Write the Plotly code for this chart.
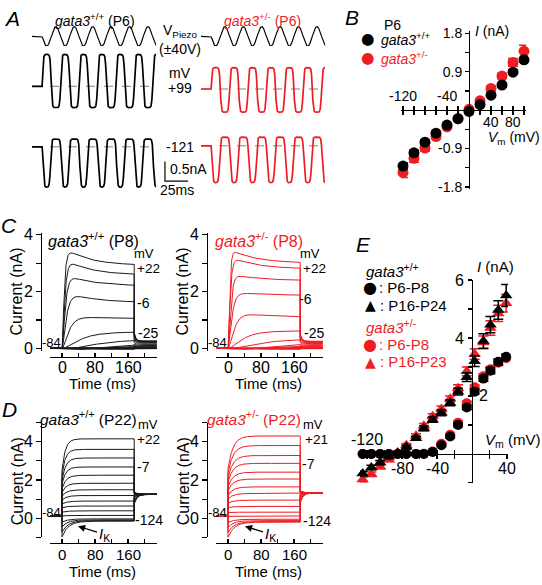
import numpy as np
import plotly.graph_objects as go

W, H = 542, 585
BLK = '#000000'
TRC = '#1a1a1a'
RED = '#ee1d23'
GRAY = '#808080'
FONT = 'Liberation Sans, Arial, sans-serif'
SYM = 'DejaVu Sans'

# ---------------- Panel A : MET currents ----------------
A_SWEEP_MS = 135
A_STIM_ON_MS = 11
A_STIM_HZ = 50
A_PIEZO_V = 40
A_GAIN = 6.0
A_STEP_LABELS = ['+99', '-121']
A_CLOSED_BLACK = [0.00, 0.00]
A_OPEN_BLACK = [1.37, -1.25]
A_REST_PO_BLACK = [0.40, 0.16]
A_CLOSED_RED = [-0.12, 0.05]
A_OPEN_RED = [1.03, -1.13]
A_REST_PO_RED = [0.52, 0.19]
A_SCALE_NA = 0.5
A_SCALE_MS = 25

# ---------------- Panel B : P6 I-V ----------------
B_V = [-120, -100, -80, -60, -40, -20, 0, 20, 40, 60, 80, 100]
B_I_BLACK = [-1.31, -1.00, -0.75, -0.54, -0.35, -0.20, -0.03, 0.13, 0.35, 0.59, 0.89, 1.18]
B_ERR_BLACK = [0.07, 0.06, 0.05, 0.04, 0.03, 0.03, 0.03, 0.04, 0.04, 0.04, 0.05, 0.05]
B_I_RED = [-1.46, -1.13, -0.89, -0.62, -0.39, -0.20, 0.02, 0.22, 0.51, 0.80, 1.12, 1.38]
B_ERR_RED = [0.12, 0.09, 0.07, 0.05, 0.04, 0.03, 0.03, 0.04, 0.05, 0.06, 0.09, 0.14]
B_XTICKS = [-120, -100, -80, -60, -40, -20, 20, 40, 60, 80, 100]
B_XLABELS_ABOVE = [-120, -40]
B_XLABELS_BELOW = [40, 80]
B_YTICKS = [-1.8, -0.9, 0.9, 1.8]
B_YTEXT = ['-1.8', '-0.9', '0.9', '1.8']
B_YMINOR = [-1.35, -0.45, 0.45, 1.35]

# ---------------- Panel C : P8 outward currents ----------------
C_STEP_MS = 175
C_END_MS = 230
C_TAU_INACT = 60
C_MV = [22, 13, 3, -6, -16, -25, -34, -44, -53, -63, -72, -82, -91, -100, -110, -119]
C_BLACK_PEAK = [3.44, 3.04, 2.52, 1.88, 1.11, 0.55, 0.27, 0.13, 0.07, 0.04, 0.02, 0.01, -0.01, -0.02, -0.03, -0.04]
C_BLACK_END = [2.92, 2.58, 2.20, 1.62, 1.05, 0.58, 0.30, 0.15, 0.08, 0.04, 0.02, 0.01, -0.01, -0.02, -0.03, -0.04]
C_BLACK_TAU = [4, 5, 6, 8, 13, 28, 40, 50, 55, 60, 60, 60, 60, 60, 60, 60]
C_BLACK_TAIL0 = [0.55, 0.50, 0.45, 0.40, 0.33, 0.27, 0.20, 0.14, 0.10, 0.07, 0.05, 0.03, 0.02, 0.01, 0.00, -0.01]
C_BLACK_TAILSS = [0.26, 0.25, 0.24, 0.23, 0.21, 0.18, 0.14, 0.10, 0.07, 0.05, 0.03, 0.02, 0.01, 0.00, 0.00, -0.01]
C_RED_PEAK = [3.44, 3.16, 2.58, 1.96, 1.22, 0.60, 0.30, 0.15, 0.08, 0.04, 0.02, 0.01, -0.01, -0.02, -0.03, -0.04]
C_RED_END = [3.00, 2.80, 2.39, 1.87, 1.10, 0.62, 0.32, 0.17, 0.09, 0.05, 0.02, 0.01, -0.01, -0.02, -0.03, -0.04]
C_RED_TAU = [3, 4, 5, 7, 12, 25, 40, 50, 55, 60, 60, 60, 60, 60, 60, 60]
C_RED_TAIL0 = [0.50, 0.46, 0.42, 0.38, 0.32, 0.26, 0.20, 0.14, 0.10, 0.07, 0.05, 0.03, 0.02, 0.01, 0.00, -0.01]
C_RED_TAILSS = [0.25, 0.24, 0.23, 0.22, 0.20, 0.17, 0.14, 0.10, 0.07, 0.05, 0.03, 0.02, 0.01, 0.00, 0.00, -0.01]
CD_XTICKS = [0, 40, 80, 120, 160, 200]
CD_XLABELS = [0, 80, 160]
C_YTICKS = [0, 2, 4]
C_YMINOR = [1, 3]

# ---------------- Panel D : P22 currents ----------------
D_HOLD_I = 0.10
D_BLACK_MV = [22, 12, 3, -7, -17, -26, -36, -46, -55, -65, -75, -84, -94, -104, -113, -124]
D_BLACK_I0 = [2.50, 2.25, 2.00, 1.80, 1.55, 1.35, 1.15, 0.95, 0.75, 0.55, 0.32, 0.12, -0.20, -0.45, -0.72, -0.97]
D_BLACK_ISS = [4.15, 3.60, 3.15, 2.68, 2.25, 1.83, 1.49, 1.19, 0.90, 0.64, 0.39, 0.15, -0.03, -0.08, -0.12, -0.15]
D_BLACK_TAU = [8, 8, 9, 9, 10, 10, 11, 11, 12, 12, 12, 12, 14, 14, 15, 15]
D_BLACK_TAIL0 = [1.36, 1.35, 1.34, 1.33, 1.32, 1.30, 1.28, 1.26, 1.24, 1.20, 1.15, 1.08, 0.98, 0.90, 0.82, 0.75]
D_BLACK_TAILSS = 1.25
D_RED_MV = [21, 12, 2, -7, -17, -26, -36, -45, -55, -65, -74, -84, -94, -104, -114, -124]
D_RED_I0 = [2.60, 2.35, 2.10, 1.90, 1.65, 1.45, 1.20, 1.00, 0.78, 0.55, 0.30, 0.10, -0.22, -0.48, -0.74, -1.00]
D_RED_ISS = [4.30, 3.80, 3.28, 2.87, 2.41, 2.05, 1.64, 1.30, 0.95, 0.62, 0.32, 0.12, -0.05, -0.12, -0.17, -0.20]
D_RED_TAU = [12, 12, 12, 12, 12, 12, 12, 12, 12, 12, 12, 12, 14, 14, 15, 15]
D_RED_TAIL0 = [1.42, 1.41, 1.40, 1.39, 1.38, 1.37, 1.35, 1.33, 1.30, 1.27, 1.22, 1.15, 1.05, 0.96, 0.88, 0.80]
D_RED_TAILSS = 1.33
D_YTICKS = [0, 2, 4]
D_YMINOR = [-1, 1, 3, 5]

# ---------------- Panel E : I-V ----------------
E_V = [-125, -115, -105, -95, -85, -75, -64, -55, -45, -35, -25, -16, -6, 3, 13, 21, 30, 39]
E_CIRC_BLACK = [0.00, 0.00, 0.00, 0.00, 0.00, 0.00, 0.00, 0.00, 0.07, 0.30, 0.60, 1.00, 1.60, 2.15, 2.60, 2.87, 3.18, 3.35]
E_CIRC_BLACK_ERR = [0.03, 0.03, 0.03, 0.03, 0.03, 0.03, 0.03, 0.03, 0.03, 0.04, 0.05, 0.06, 0.07, 0.08, 0.09, 0.10, 0.10, 0.10]
E_CIRC_RED = [0.00, 0.00, 0.00, 0.00, 0.00, 0.00, 0.00, 0.01, 0.08, 0.35, 0.66, 1.08, 1.75, 2.30, 2.68, 2.92, 3.15, 3.30]
E_CIRC_RED_ERR = [0.03, 0.03, 0.03, 0.03, 0.03, 0.03, 0.03, 0.03, 0.03, 0.04, 0.05, 0.06, 0.07, 0.08, 0.09, 0.10, 0.10, 0.10]
E_TRI_BLACK = [-0.68, -0.47, -0.30, -0.10, 0.03, 0.24, 0.54, 0.88, 1.18, 1.42, 1.76, 2.15, 2.65, 3.20, 3.90, 4.46, 4.97, 5.47]
E_TRI_BLACK_ERR = [0.08, 0.08, 0.07, 0.06, 0.05, 0.06, 0.07, 0.08, 0.09, 0.10, 0.10, 0.12, 0.15, 0.18, 0.25, 0.28, 0.32, 0.38]
E_TRI_RED = [-0.88, -0.70, -0.44, -0.20, 0.05, 0.30, 0.63, 0.97, 1.30, 1.55, 1.90, 2.27, 2.85, 3.45, 3.85, 4.35, 4.85, 5.20]
E_TRI_RED_ERR = [0.08, 0.08, 0.07, 0.06, 0.05, 0.06, 0.07, 0.08, 0.09, 0.10, 0.10, 0.12, 0.15, 0.18, 0.22, 0.25, 0.28, 0.30]
E_XTICKS = [-120, -100, -80, -60, -40, -20, 20, 40]
E_XLABELS_ABOVE = [-120]
E_XLABELS_BELOW = [-80, -40, 40]
E_YTICKS = [-1, 1, 2, 3, 4, 5, 6]
E_YLABELS_LEFT = [6, 4]
E_YLABELS_RIGHT = [2]


def dom_x(a, b):
    return [a / W, b / W]


def dom_y(top, bot):
    return [1 - bot / H, 1 - top / H]


fig = go.Figure()


def add_line(x, y, xa, ya, color, width, dash=None):
    fig.add_trace(go.Scatter(x=x, y=y, xaxis=xa, yaxis=ya, mode='lines',
                             line=dict(color=color, width=width, dash=dash),
                             hoverinfo='skip', showlegend=False))


# ---------- Panel A traces ----------
tA = np.linspace(0, A_SWEEP_MS, 1351)
phase = np.where(tA >= A_STIM_ON_MS,
                 np.sin(2 * np.pi * A_STIM_HZ * (tA - A_STIM_ON_MS) / 1000.0), 0.0)
piezo = -A_PIEZO_V * phase
for xa in ['x', 'x2']:
    add_line(tA, piezo, xa, 'y', BLK, 1.2)
for i, ya in enumerate(['y2', 'y3']):
    for xa, cl, op, rp, col in [('x', A_CLOSED_BLACK, A_OPEN_BLACK, A_REST_PO_BLACK, BLK),
                                ('x2', A_CLOSED_RED, A_OPEN_RED, A_REST_PO_RED, RED)]:
        off = np.log(rp[i] / (1 - rp[i]))
        po = 1.0 / (1.0 + np.exp(-(A_GAIN * phase + off)))
        cur = cl[i] + (op[i] - cl[i]) * po
        rest = cl[i] + (op[i] - cl[i]) * rp[i]
        add_line([0, A_SWEEP_MS], [rest, rest], xa, ya, GRAY, 1, 'dash')
        add_line(tA, cur, xa, ya, col, 1.7)
# scale bar
sb_t0 = 5.4
sb_y0 = -1.075
add_line([sb_t0, sb_t0, sb_t0 + A_SCALE_MS], [sb_y0 + A_SCALE_NA, sb_y0, sb_y0], 'x3', 'y3', BLK, 1.2)

# ---------- Panel B ----------
for yv, ev, col in [(B_I_RED, B_ERR_RED, RED), (B_I_BLACK, B_ERR_BLACK, BLK)]:
    fig.add_trace(go.Scatter(x=B_V, y=yv, xaxis='x4', yaxis='y4', mode='markers',
                             marker=dict(color=col, size=11, symbol='circle'),
                             error_y=dict(type='data', array=ev, color=col, thickness=1.5, width=5),
                             cliponaxis=False, showlegend=False, hoverinfo='skip'))
fig.add_trace(go.Scatter(x=[], y=[], xaxis='x10', yaxis='y4', showlegend=False))

# ---------- Panel C ----------
t_pre = np.array([-29.0, 0.0])
t_step = np.linspace(0, C_STEP_MS, 351)
t_tail = np.linspace(C_STEP_MS, C_END_MS, 111)
t_all = np.concatenate([t_pre, t_step, t_tail])


def c_trace(peak, end, tau, tail0, tailss):
    tpk = 4.0 * tau
    amp = end + (peak - end) * np.exp(min(tpk, 200) / C_TAU_INACT)
    act = (1 - np.exp(-t_step / tau)) ** 2
    step = act * (end + (amp - end) * np.exp(-t_step / C_TAU_INACT))
    tail = tailss + (tail0 - tailss) * np.exp(-(t_tail - C_STEP_MS) / 4.0)
    return np.concatenate([[0.0, 0.0], step, tail])


for xa, ya, pk, en, ta, t0, ts, col in [
        ('x5', 'y5', C_BLACK_PEAK, C_BLACK_END, C_BLACK_TAU, C_BLACK_TAIL0, C_BLACK_TAILSS, TRC),
        ('x6', 'y6', C_RED_PEAK, C_RED_END, C_RED_TAU, C_RED_TAIL0, C_RED_TAILSS, RED)]:
    for k in range(len(C_MV) - 1, -1, -1):
        add_line(t_all, c_trace(pk[k], en[k], ta[k], t0[k], ts[k]), xa, ya, col, 1.0)


# ---------- Panel D ----------
def d_trace(i0, iss, tau, tail0, tailss):
    step = iss + (i0 - iss) * np.exp(-t_step / tau)
    tail = tailss + (tail0 - tailss) * np.exp(-(t_tail - C_STEP_MS) / 7.0)
    return np.concatenate([[D_HOLD_I, D_HOLD_I], step, tail])


for xa, ya, i0, iss, ta, t0, ts, col in [
        ('x7', 'y7', D_BLACK_I0, D_BLACK_ISS, D_BLACK_TAU, D_BLACK_TAIL0, D_BLACK_TAILSS, TRC),
        ('x8', 'y8', D_RED_I0, D_RED_ISS, D_RED_TAU, D_RED_TAIL0, D_RED_TAILSS, RED)]:
    for k in range(len(i0)):
        add_line(t_all, d_trace(i0[k], iss[k], ta[k], t0[k], ts), xa, ya, col, 1.0)

# ---------- Panel E ----------
for yv, ev, col, sym, sz in [(E_CIRC_RED, E_CIRC_RED_ERR, RED, 'circle', 10),
                             (E_TRI_RED, E_TRI_RED_ERR, RED, 'triangle-up', 11),
                             (E_CIRC_BLACK, E_CIRC_BLACK_ERR, BLK, 'circle', 10),
                             (E_TRI_BLACK, E_TRI_BLACK_ERR, BLK, 'triangle-up', 11)]:
    fig.add_trace(go.Scatter(x=E_V, y=yv, xaxis='x9', yaxis='y9', mode='markers',
                             marker=dict(color=col, size=sz, symbol=sym),
                             error_y=dict(type='data', array=ev, color=col, thickness=1.5, width=5),
                             cliponaxis=False, showlegend=False, hoverinfo='skip'))
fig.add_trace(go.Scatter(x=[], y=[], xaxis='x11', yaxis='y9', showlegend=False))


# ---------- Axes ----------
def hidden(dom, rng):
    return dict(visible=False, fixedrange=True, range=rng, showgrid=False, zeroline=False, domain=dom)


AX = dict(showgrid=False, zeroline=False, showline=True, linecolor=BLK, linewidth=1.3,
          tickcolor=BLK, tickwidth=1.2, fixedrange=True, anchor='free',
          tickfont=dict(family=FONT, size=16, color=BLK))


def minor(vals, ticks, length):
    return dict(tickvals=vals, ticks=ticks, ticklen=length, tickcolor=BLK, tickwidth=1.2, showgrid=False)


layout = dict(
    xaxis=hidden(dom_x(32, 156.2), [0, A_SWEEP_MS]),
    xaxis2=hidden(dom_x(201, 325.2), [0, A_SWEEP_MS]),
    xaxis3=hidden(dom_x(160, 200), [0, 40 / 0.92]),
    yaxis=hidden(dom_y(18, 42), [-48, 48]),
    yaxis2=hidden(dom_y(40, 115), [-0.3, 1.575]),
    yaxis3=hidden(dom_y(125, 192), [-1.425, 0.25]),
)

# B
layout['xaxis4'] = dict(AX, domain=dom_x(401, 526), range=[-123.6, 103.6], position=1 - 105.5 / H,
                        ticks='outside', ticklen=4, tickvals=B_XTICKS, showticklabels=False)
layout['xaxis10'] = dict(AX, overlaying='x4', range=[-123.6, 103.6], position=1 - 105.5 / H,
                         showline=False, ticks='inside', ticklen=4, tickvals=B_XTICKS, showticklabels=False)
layout['yaxis4'] = dict(AX, domain=dom_y(25, 186), range=[-1.846, 1.846], position=469 / W,
                        ticks='outside', ticklen=4, tickvals=B_YTICKS, ticktext=B_YTEXT,
                        minor=minor(B_YMINOR, 'outside', 4),
                        tickfont=dict(family=FONT, size=14, color=BLK))

# C / D
CD_RANGE = [-29.1, 230.3]
for xn, yn, x0, ytop, ybot, yr, xpos, yt, ym in [
        ('xaxis5', 'yaxis5', 0, 231.5, 352, [-0.1, 4.05], 358, C_YTICKS, C_YMINOR),
        ('xaxis6', 'yaxis6', 166, 231.5, 352, [-0.1, 4.05], 358, C_YTICKS, C_YMINOR),
        ('xaxis7', 'yaxis7', 0, 425, 542.5, [-1.0, 5.0], 548, D_YTICKS, D_YMINOR),
        ('xaxis8', 'yaxis8', 166, 425, 542.5, [-1.0, 5.0], 548, D_YTICKS, D_YMINOR)]:
    layout[xn] = dict(AX, domain=dom_x(50 + x0, 157 + x0), range=CD_RANGE, position=1 - xpos / H,
                      ticks='inside', ticklen=4, tickvals=CD_XTICKS, showticklabels=False)
    layout[yn] = dict(AX, domain=dom_y(ytop, ybot), range=yr, position=(41 + x0) / W,
                      ticks='outside', ticklen=5, tickvals=yt,
                      minor=minor(ym, 'outside', 5))

# E
layout['xaxis9'] = dict(AX, domain=dom_x(360, 508), range=[-128, 41.1], position=1 - 457 / H,
                        ticks='outside', ticklen=4, tickvals=E_XTICKS, showticklabels=False)
layout['xaxis11'] = dict(AX, overlaying='x9', range=[-128, 41.1], position=1 - 457 / H,
                         showline=False, ticks='inside', ticklen=4, tickvals=E_XTICKS, showticklabels=False)
layout['yaxis9'] = dict(AX, domain=dom_y(279, 487), range=[-1.01, 6.01], position=472 / W,
                        ticks='outside', ticklen=4, tickvals=E_YTICKS, showticklabels=False)

# ---------- Text ----------
ann = []


def T(x, y, s, size=14, color=BLK, xa='center', ya='middle', angle=0, family=FONT):
    ann.append(dict(x=x / W, y=1 - y / H, xref='paper', yref='paper', text=s, showarrow=False,
                    xanchor=xa, yanchor=ya, textangle=angle,
                    font=dict(family=family, size=size, color=color)))


def TD(x, y, s, xr, yr, size, xa='center', ya='middle', xshift=0, yshift=0):
    ann.append(dict(x=x, y=y, xref=xr, yref=yr, text=s, showarrow=False, xanchor=xa, yanchor=ya,
                    xshift=xshift, yshift=yshift, font=dict(family=FONT, size=size, color=BLK)))


def ARROWTEXT(s, hx, hy, cx, cy, size=15):
    # arrow head at (hx, hy); text centred at (cx, cy)
    ann.append(dict(x=hx / W, y=1 - hy / H, xref='paper', yref='paper', text=s, showarrow=True,
                    ax=cx - hx, ay=cy - hy, arrowhead=2, arrowsize=1.1, arrowwidth=1.3,
                    arrowcolor=BLK, standoff=0, startstandoff=0,
                    font=dict(family=FONT, size=size, color=BLK)))


GW = '<i>gata3</i><sup>+/+</sup>'
GH = '<i>gata3</i><sup>+/-</sup>'

# A
T(12, 12, '<i>A</i>', 21)
T(95, 13, GW + ' (P6)', 14)
T(262, 13, GH + ' (P6)', 14, RED)
T(180, 25, 'V<sub>Piezo</sub>', 14)
T(180, 43, '(±40V)', 14)
T(180, 68, 'mV', 14)
T(180, 83, A_STEP_LABELS[0], 14)
T(180, 143, A_STEP_LABELS[1], 14)
T(168, 166, '0.5nA', 14, xa='left')
T(177, 187, '25ms', 14)

# B
T(352, 11, '<i>B</i>', 21)
T(392, 18, 'P6', 14)
T(368, 33, '●', 15.5, family=SYM)
T(379, 33, GW, 14, xa='left')
T(368, 52, '●', 15.5, RED, family=SYM)
T(379, 52, GH, 14, RED, xa='left')
T(473, 25, '<i>I</i> (nA)', 14, xa='left')
T(514, 134, '<i>V</i><sub>m</sub> (mV)', 14)
for v in B_XLABELS_ABOVE:
    TD(v, 0, str(v), 'x4', 'y4', 14, yshift=14)
for v in B_XLABELS_BELOW:
    TD(v, 0, str(v), 'x4', 'y4', 14, yshift=-12)

# C
T(9, 223, '<i>C</i>', 21)
T(93, 238, GW + ' (P8)', 16)
T(259, 238, GH + ' (P8)', 16, RED)
for dx in [0, 166]:
    T(144 + dx, 252, 'mV', 13)
    T(148 + dx, 267, '+22', 13.5)
    T(51 + dx, 343, '-84', 13)
    T(148 + dx, 333, '-25', 14)
    T(17 + dx, 291, 'Current (nA)', 16, angle=-90)
    T(102 + dx, 385.5, 'Time (ms)', 15)
T(143, 303, '-6', 14)
T(305, 299, '-6', 14)

# D
T(9, 412, '<i>D</i>', 21)
T(88, 420, GW + ' (P22)', 15.5)
T(254, 420, GH + ' (P22)', 15.5, RED)
T(148, 427, 'mV', 13)
T(148, 442, '+22', 13.5)
T(143, 470, '-7', 14)
T(149, 525, '-124', 14)
T(313, 427, 'mV', 13)
T(316, 442, '+21', 13.5)
T(308, 467, '-7', 14)
T(317, 526, '-124', 14)
for dx in [0, 166]:
    T(51 + dx, 517, '-84', 13)
    T(17 + dx, 485, 'Current (nA)', 16, angle=-90)
    T(102 + dx, 577, 'Time (ms)', 15)
ARROWTEXT('<i>I</i><sub>K</sub>', 78, 531, 104, 539)
ARROWTEXT('<i>I</i><sub>K</sub>', 245, 531, 270, 539)

# C / D x tick labels (data x, paper y)
for xr, ypx, fs in [('x5', 368.5, 16), ('x6', 368.5, 16), ('x7', 559.5, 15), ('x8', 559.5, 15)]:
    for v in CD_XLABELS:
        ann.append(dict(x=v, y=1 - ypx / H, xref=xr, yref='paper', text=str(v), showarrow=False,
                        xanchor='center', yanchor='middle', font=dict(family=FONT, size=fs, color=BLK)))

# E
T(363, 243, '<i>E</i>', 21)
T(364, 269, GW, 15, xa='left')
T(370, 287, '●', 16, family=SYM)
T(377, 287, ': P6-P8', 15, xa='left')
T(370, 305, '▲', 14, family=SYM)
T(378, 305, ': P16-P24', 15, xa='left')
T(364, 327, GH, 15, RED, xa='left')
T(370, 345, '●', 16, RED, family=SYM)
T(377, 345, ': P6-P8', 15, RED, xa='left')
T(370, 363, '▲', 14, RED, family=SYM)
T(378, 363, ': P16-P23', 15, RED, xa='left')
T(475, 265, '<i>I</i> (nA)', 15, xa='left')
T(512, 443, '<i>V</i><sub>m</sub> (mV)', 15)
for v in E_XLABELS_ABOVE:
    TD(v, 0, str(v), 'x9', 'y9', 16, yshift=14)
for v in E_XLABELS_BELOW:
    TD(v, 0, str(v), 'x9', 'y9', 16, yshift=-15)
for v in E_YLABELS_LEFT:
    TD(0, v, str(v), 'x9', 'y9', 16, xa='right', xshift=-6)
for v in E_YLABELS_RIGHT:
    TD(0, v, str(v), 'x9', 'y9', 16, xa='left', xshift=5)

fig.update_layout(**layout)
fig.update_layout(width=W, height=H, margin=dict(l=0, r=0, t=0, b=0),
                  paper_bgcolor='white', plot_bgcolor='white', showlegend=False,
                  font=dict(family=FONT, size=14, color=BLK), annotations=ann)

fig.write_html('out.html', config={'displayModeBar': False, 'staticPlot': True},
               post_script="document.body.style.margin='0';document.body.style.padding='0';"
                           "document.documentElement.style.margin='0';")
